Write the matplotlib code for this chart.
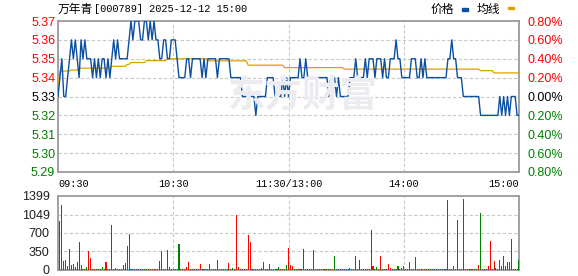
import matplotlib
matplotlib.use("Agg")
import matplotlib.pyplot as plt
from matplotlib.patches import Rectangle
import numpy as np

plt.rcParams['font.family'] = ['Liberation Sans', 'Noto Sans CJK SC', 'DejaVu Sans']

stock_name = "万年青"
stock_info = "[000789] 2025-12-12 15:00"
pre_close = 5.33

# one price per minute, 09:30 .. 11:30 / 13:00 .. 15:00 (241 points)
price = [
    5.33, 5.34, 5.35, 5.33, 5.33, 5.34, 5.35, 5.36, 5.35, 5.36,
    5.35, 5.34, 5.36, 5.35, 5.36, 5.35, 5.35, 5.35, 5.34, 5.35,
    5.34, 5.35, 5.34, 5.35, 5.35, 5.34, 5.35, 5.34, 5.35, 5.36,
    5.35, 5.36, 5.35, 5.35, 5.35, 5.35, 5.35, 5.36, 5.37, 5.36,
    5.37, 5.37, 5.37, 5.36, 5.36, 5.37, 5.37, 5.36, 5.37, 5.36,
    5.37, 5.36, 5.36, 5.35, 5.35, 5.36, 5.36, 5.35, 5.35, 5.36,
    5.36, 5.36, 5.35, 5.34, 5.34, 5.34, 5.34, 5.35, 5.35, 5.34,
    5.35, 5.35, 5.35, 5.35, 5.35, 5.34, 5.35, 5.34, 5.35, 5.35,
    5.35, 5.35, 5.35, 5.34, 5.35, 5.35, 5.35, 5.35, 5.35, 5.35,
    5.34, 5.34, 5.34, 5.34, 5.34, 5.34, 5.33, 5.33, 5.33, 5.33,
    5.33, 5.33, 5.33, 5.32, 5.33, 5.33, 5.33, 5.33, 5.33, 5.34,
    5.34, 5.34, 5.34, 5.33, 5.33, 5.33, 5.33, 5.34, 5.33, 5.34,
    5.33, 5.34, 5.34, 5.34, 5.34, 5.34, 5.35, 5.34, 5.34, 5.35,
    5.34, 5.34, 5.34, 5.34, 5.34, 5.34, 5.34, 5.34, 5.34, 5.34,
    5.34, 5.33, 5.34, 5.33, 5.34, 5.33, 5.34, 5.33, 5.33, 5.33,
    5.33, 5.33, 5.34, 5.34, 5.34, 5.35, 5.34, 5.34, 5.34, 5.34,
    5.35, 5.34, 5.35, 5.35, 5.35, 5.34, 5.35, 5.35, 5.35, 5.34,
    5.35, 5.34, 5.34, 5.35, 5.35, 5.35, 5.36, 5.35, 5.35, 5.34,
    5.34, 5.34, 5.34, 5.34, 5.35, 5.35, 5.35, 5.34, 5.34, 5.35,
    5.34, 5.35, 5.34, 5.34, 5.34, 5.34, 5.34, 5.34, 5.34, 5.34,
    5.34, 5.34, 5.34, 5.35, 5.35, 5.36, 5.35, 5.35, 5.34, 5.34,
    5.34, 5.33, 5.33, 5.33, 5.33, 5.33, 5.33, 5.33, 5.33, 5.33,
    5.32, 5.32, 5.32, 5.32, 5.32, 5.32, 5.32, 5.32, 5.32, 5.32,
    5.33, 5.32, 5.33, 5.32, 5.33, 5.32, 5.33, 5.33, 5.33, 5.32,
    5.32,
]

# average line read as flat runs: level and number of minutes
avg_levels = [5.3356, 5.3435, 5.344, 5.345, 5.346, 5.347, 5.348, 5.349,
              5.350, 5.3489, 5.3466, 5.3453, 5.3445, 5.3437, 5.3425]
avg_counts = [1, 6, 4, 17, 8, 2, 8, 11, 21, 21, 19, 31, 71, 7, 14]

volume = [
    0, 923, 1229, 175, 195, 78, 390, 97, 117, 65,
    150, 520, 97, 20, 20, 65, 350, 220, 20, 20,
    20, 15, 20, 60, 20, 143, 20, 20, 845, 20,
    30, 20, 15, 20, 97, 130, 455, 683, 20, 20,
    20, 20, 20, 20, 20, 20, 20, 20, 20, 20,
    20, 20, 20, 163, 358, 20, 20, 377, 65, 20,
    20, 20, 20, 488, 20, 20, 20, 65, 143, 20,
    20, 20, 20, 20, 117, 20, 20, 20, 20, 104,
    20, 20, 20, 182, 20, 20, 20, 20, 20, 124,
    20, 45, 20, 1035, 50, 20, 20, 20, 20, 664,
    533, 20, 20, 20, 20, 20, 45, 143, 20, 20,
    104, 20, 20, 20, 20, 50, 20, 20, 20, 97,
    423, 97, 78, 20, 20, 20, 20, 20, 390, 20,
    20, 20, 20, 371, 20, 20, 20, 20, 20, 20,
    20, 20, 20, 20, 273, 20, 20, 20, 20, 20,
    20, 20, 45, 20, 20, 273, 20, 195, 20, 20,
    20, 20, 20, 761, 78, 20, 65, 20, 273, 20,
    20, 20, 117, 45, 20, 20, 20, 78, 20, 45,
    85, 20, 20, 156, 20, 20, 254, 20, 20, 20,
    20, 20, 20, 20, 20, 20, 20, 20, 20, 20,
    20, 20, 20, 1314, 20, 20, 78, 20, 943, 20,
    20, 1333, 20, 20, 20, 20, 20, 20, 20, 97,
    1072, 20, 20, 20, 78, 546, 20, 175, 45, 20,
    195, 78, 260, 78, 143, 143, 585, 20, 20, 20,
    195,
]
# minutes whose volume bar is green (selling)
down_minutes = [3, 8, 11, 15, 23, 54, 63, 91, 115, 119, 128, 144, 166,
                177, 179, 206, 211, 220, 231, 234, 236, 240]

price_ticks = [5.29, 5.30, 5.31, 5.32, 5.33, 5.34, 5.35, 5.36, 5.37]
pct_labels = ["0.80%", "0.60%", "0.40%", "0.20%", "0.00%",
              "0.20%", "0.40%", "0.60%", "0.80%"]
vol_ticks = [0, 350, 700, 1049, 1399]
time_ticks = [0, 60, 120, 180, 240]
time_labels = ["09:30", "10:30", "11:30/13:00", "14:00", "15:00"]

RED = '#ff0000'
GREEN = '#008000'
BLUE = '#0a4fa0'
GOLD = '#e0a000'
GRID = '#c8c8c8'
EDGE = '#9a9a9a'


def level_color(p):
    if p > pre_close + 1e-9:
        return RED
    if p < pre_close - 1e-9:
        return GREEN
    return 'black'


W, H = 578, 276
fig = plt.figure(figsize=(W / 100, H / 100), dpi=100)
ax = fig.add_axes([58 / W, 1 - 172 / H, 461 / W, 151 / H])
axv = fig.add_axes([58 / W, 1 - 270 / H, 461 / W, 74 / H])

minutes = np.arange(len(price))
avg = np.repeat(avg_levels, avg_counts)

# watermark
fig.text(228 / W, 1 - 96 / H, "东方财富", fontsize=27, fontweight='bold',
         color='#ececf0', va='center', ha='left', zorder=0,
         family=['Noto Sans CJK SC'])

for a in (ax, axv):
    a.set_facecolor('none')
    a.set_xlim(0, 240)
    for s in a.spines.values():
        s.set_color(EDGE)
        s.set_linewidth(1.3)
    for t in time_ticks[1:-1]:
        a.axvline(t, color=GRID, lw=0.8, ls=(0, (3, 2)), zorder=1)

# price panel
ax.set_ylim(price_ticks[0], price_ticks[-1])
for p in price_ticks[1:-1]:
    ax.axhline(p, color=GRID, lw=0.8, ls=(0, (3, 2)), zorder=1)
ax.plot(minutes, avg, color=GOLD, lw=0.9, zorder=3)
ax.plot(minutes, price, color=BLUE, lw=1.0, zorder=4)

ax.set_yticks(price_ticks)
ax.set_yticklabels([f"{p:.2f}" for p in price_ticks])
for lab, p in zip(ax.get_yticklabels(), price_ticks):
    lab.set_color(level_color(p))
ax.tick_params(axis='y', length=0, pad=2, labelsize=9)
ax.set_xticks(time_ticks)
ax.set_xticklabels(time_labels, family=['Liberation Mono'], fontsize=7.3)
ax.tick_params(axis='x', length=0, pad=5)
xl = ax.get_xticklabels()
xl[0].set_ha('left')
xl[-1].set_ha('right')

axr = ax.twinx()
axr.set_ylim(ax.get_ylim())
axr.set_yticks(price_ticks)
axr.set_yticklabels(pct_labels[::-1])
for lab, p in zip(axr.get_yticklabels(), price_ticks):
    lab.set_color(level_color(p))
axr.tick_params(axis='y', length=0, pad=6, labelsize=9)
for s in axr.spines.values():
    s.set_visible(False)

# volume panel
axv.set_ylim(0, vol_ticks[-1])
for v in vol_ticks[1:-1]:
    axv.axhline(v, color=GRID, lw=0.8, ls=(0, (3, 2)), zorder=1)
bar_colors = [GREEN if m in down_minutes else RED for m in minutes]
axv.bar(minutes, volume, width=0.55, color=bar_colors, zorder=3)
axv.set_yticks(vol_ticks)
axv.set_yticklabels([str(v) for v in vol_ticks], color='#202020')
axv.tick_params(axis='y', length=0, pad=6, labelsize=9)
axv.set_xticks([])

# header
fig.text(58 / W, 1 - 9 / H, stock_name, fontsize=8.5, va='center', ha='left',
         family=['Noto Sans CJK SC'])
fig.text(94 / W, 1 - 9 / H, stock_info, fontsize=7.4, va='center', ha='left',
         family=['Liberation Mono'])

# legend
fig.text(431 / W, 1 - 9 / H, "价格", fontsize=8.5, va='center', ha='left',
         family=['Noto Sans CJK SC'])
fig.add_artist(Rectangle((462 / W, 1 - 11 / H), 6 / W, 3 / H,
                         transform=fig.transFigure, color=BLUE))
fig.text(477 / W, 1 - 9 / H, "均线", fontsize=8.5, va='center', ha='left',
         family=['Noto Sans CJK SC'])
fig.add_artist(Rectangle((508 / W, 1 - 9 / H), 6 / W, 2 / H,
                         transform=fig.transFigure, color=GOLD))

fig.savefig("out.png", dpi=100)
